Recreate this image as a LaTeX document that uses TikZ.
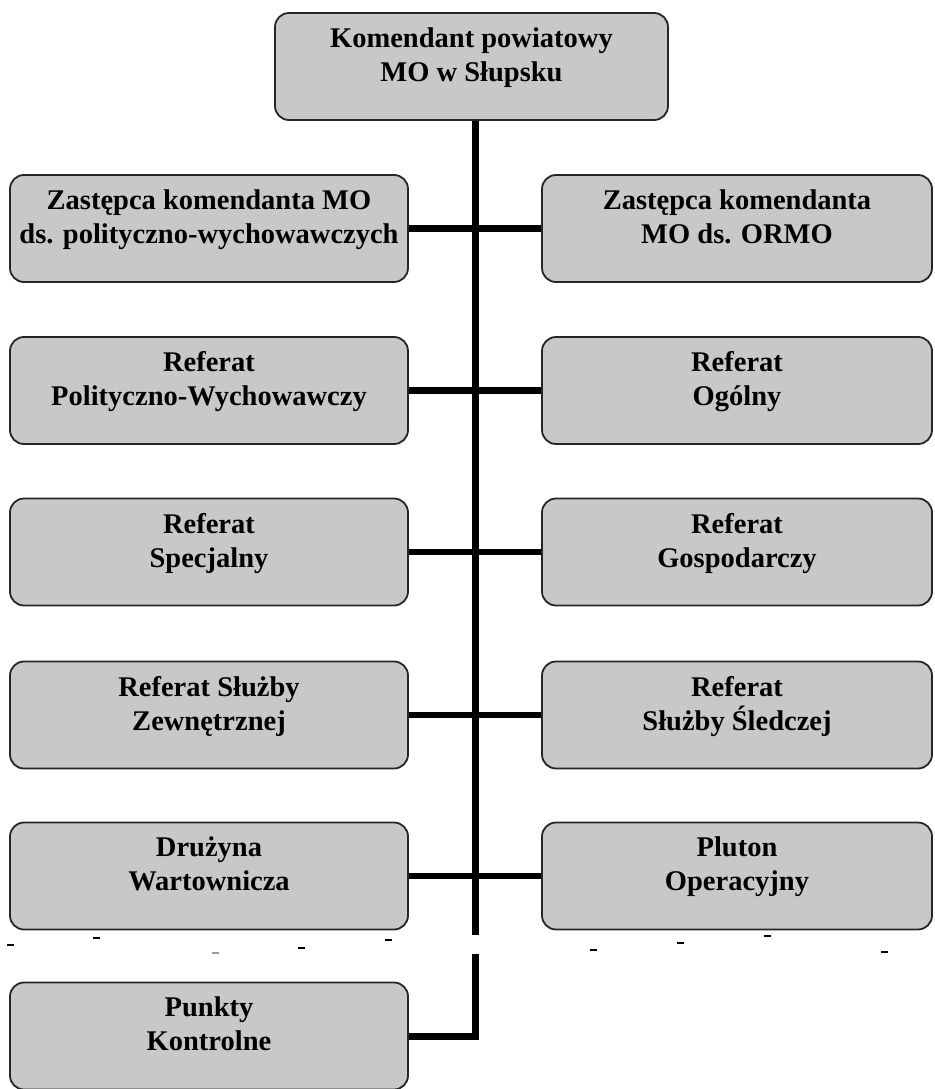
\documentclass[tikz,border=0pt]{standalone}
\usepackage{fontspec}
\setmainfont{Liberation Serif}
\begin{document}
\begin{tikzpicture}[x=1pt,y=-1pt,
  box/.style={draw=black!85, line width=1.8pt, fill=boxgray, rounded corners=14pt,
    minimum height=107pt, inner sep=0pt},
  lbox/.style={box, minimum width=398pt},
  rbox/.style={box, minimum width=390pt},
  txt/.style={align=center, font=\bfseries\fontsize{28.5}{34}\selectfont, inner sep=0pt, yshift=8pt,
    execute at begin node={\rule{0pt}{26pt}}, execute at end node={\rule[-8pt]{0pt}{8pt}}},
  conn/.style={line width=6.5pt},
  trunk/.style={line width=7pt},
  tick/.style={line width=2.6pt}]
\definecolor{boxgray}{HTML}{C8C8C8}
\useasboundingbox (0,0) rectangle (934,1089);
% top
\node[box, minimum width=393pt] (top) at (471.5,66.5) {};
\node[txt] (topt) at (top.center) {Komendant powiatowy\\MO w Słupsku};
% left column
\node[lbox] (l1) at (209,228.5) {};
\node[txt] (l1t) at (l1.center) {Zastępca komendanta MO\\ds. polityczno-wychowawczych};
\node[lbox] (l2) at (209,390.5) {};
\node[txt] (l2t) at (l2.center) {Referat\\Polityczno-Wychowawczy};
\node[lbox] (l3) at (209,552) {};
\node[txt] (l3t) at (l3.center) {Referat\\Specjalny};
\node[lbox] (l4) at (209,715) {};
\node[txt] (l4t) at (l4.center) {Referat Służby\\Zewnętrznej};
\node[lbox] (l5) at (209,876) {};
\node[txt] (l5t) at (l5.center) {Drużyna\\Wartownicza};
\node[lbox] (l6) at (209,1036) {};
\node[txt] (l6t) at (l6.center) {Punkty\\Kontrolne};
% right column
\node[rbox] (r1) at (737,228.5) {};
\node[txt] (r1t) at (r1.center) {Zastępca komendanta\\MO ds. ORMO};
\node[rbox] (r2) at (737,390.5) {};
\node[txt] (r2t) at (r2.center) {Referat\\Ogólny};
\node[rbox] (r3) at (737,552) {};
\node[txt] (r3t) at (r3.center) {Referat\\Gospodarczy};
\node[rbox] (r4) at (737,715) {};
\node[txt] (r4t) at (r4.center) {Referat\\Służby Śledczej};
\node[rbox] (r5) at (737,876) {};
\node[txt] (r5t) at (r5.center) {Pluton\\Operacyjny};
% trunk
\coordinate (gapA) at (475,935);
\coordinate (gapB) at (475,954);
\draw[trunk] (top.south -| gapA) -- (gapA);
\draw[trunk, line join=miter] (gapB) |- (l6.east);
% branches
\foreach \i in {1,...,5}{
  \draw[conn] (l\i.east) -- (r\i.west);
}
% stray ticks
\foreach \x/\y in {10/945, 96/938, 301/948, 388/940, 593/950, 680/943, 767/936, 884/952}{
  \draw[tick] (\x-3.5,\y) -- (\x+3.5,\y);
}
\draw[tick, line width=1.2pt, black!40] (212,953) -- (219,953);
\end{tikzpicture}
\end{document}
